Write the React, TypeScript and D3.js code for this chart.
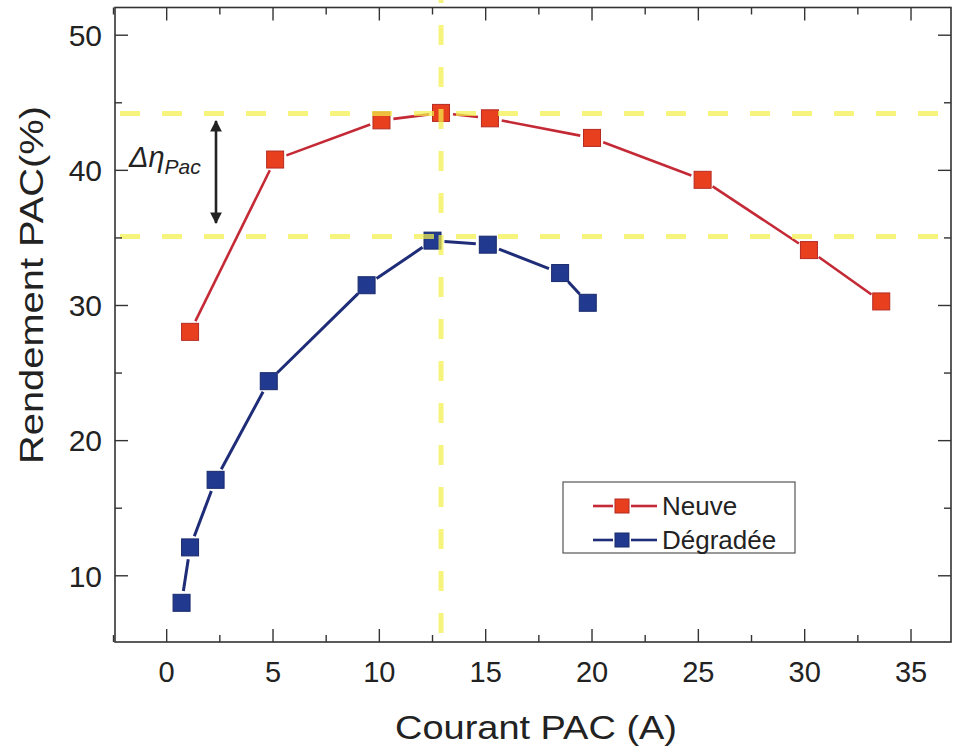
import React from "react";
import * as d3 from "d3";

const neuveX = [1.1, 5.1, 10.1, 12.9, 15.2, 20.0, 25.2, 30.2, 33.6];
const neuveY = [28.05, 40.8, 43.7, 44.25, 43.85, 42.4, 39.3, 34.1, 30.3];
const degX = [0.7, 1.1, 2.3, 4.8, 9.4, 12.5, 15.1, 18.5, 19.8];
const degY = [8.0, 12.1, 17.1, 24.4, 31.5, 34.8, 34.5, 32.4, 30.2];
const hRefLines = [44.2, 35.1];
const vRefLine = 12.9;
const xTicks = [0, 5, 10, 15, 20, 25, 30, 35];
const xMinor = [-2.5, 2.5, 7.5, 12.5, 17.5, 22.5, 27.5, 32.5];
const yTicks = [10, 20, 30, 40, 50];
const yMinor = [15, 25, 35, 45];
const seriesNames = ["Neuve", "Dégradée"];

const W = 954, H = 749;
const L = 115, R = 951, T = 7.5, B = 642;
const FONT = "'Liberation Sans', Arial, Helvetica, sans-serif";

const RED_FILL = "#e8401f", RED_LINE = "#c42a36", RED_STROKE = "#b52a22";
const BLUE_FILL = "#213a8f", BLUE_LINE = "#1f2d78", BLUE_STROKE = "#1a2a6a";
const YELLOW = "#f3f04a";

function Series({ xs, ys, x, y, line, fill, stroke, width }) {
  const pts = xs.map((v, i) => [x(v), y(ys[i])]);
  const gap = 12;
  const segs = [];
  for (let i = 0; i < pts.length - 1; i++) {
    const [x1, y1] = pts[i], [x2, y2] = pts[i + 1];
    const dx = x2 - x1, dy = y2 - y1, len = Math.hypot(dx, dy);
    if (len <= 2 * gap) continue;
    const ux = dx / len, uy = dy / len;
    segs.push(
      <line key={i} x1={x1 + ux * gap} y1={y1 + uy * gap} x2={x2 - ux * gap} y2={y2 - uy * gap}
        stroke={line} strokeWidth={width} />
    );
  }
  const s = 17;
  return (
    <g>
      {segs}
      {pts.map(([px, py], i) => (
        <rect key={i} x={px - s / 2} y={py - s / 2} width={s} height={s} fill={fill} stroke={stroke} strokeWidth={1} />
      ))}
    </g>
  );
}

export default function App() {
  const x = d3.scaleLinear().domain([-2.43, 36.88]).range([L, R]);
  const y = d3.scaleLinear().domain([5.1, 52.05]).range([B, T]);
  const major = 13, minor = 7;
  const axisColor = "#333";

  return (
    <svg width={W} height={H} style={{ position: "absolute", left: 0, top: 0, background: "#fff" }}
      fontFamily={FONT}>
      <rect x={0} y={0} width={W} height={H} fill="#fff" />

      {/* data */}
      <Series xs={neuveX} ys={neuveY} x={x} y={y} line={RED_LINE} fill={RED_FILL} stroke={RED_STROKE} width={2.6} />
      <Series xs={degX} ys={degY} x={x} y={y} line={BLUE_LINE} fill={BLUE_FILL} stroke={BLUE_STROKE} width={3} />

      {/* frame */}
      <rect x={L} y={T} width={R - L} height={B - T} fill="none" stroke={axisColor} strokeWidth={1.6} />

      {/* yellow reference lines */}
      {hRefLines.map((v, i) => (
        <line key={i} x1={L + 2} x2={R} y1={y(v)} y2={y(v)} stroke={YELLOW} strokeOpacity={0.72}
          strokeWidth={5} strokeDasharray="20 22" strokeDashoffset={-3} />
      ))}
      <line x1={x(vRefLine)} x2={x(vRefLine)} y1={633} y2={0} stroke={YELLOW} strokeOpacity={0.72}
        strokeWidth={5} strokeDasharray="20 22" />

      {/* x ticks */}
      {xTicks.map((v) => (
        <g key={"xt" + v}>
          <line x1={x(v)} x2={x(v)} y1={B} y2={B - major} stroke={axisColor} strokeWidth={1.4} />
          <line x1={x(v)} x2={x(v)} y1={T} y2={T + major} stroke={axisColor} strokeWidth={1.4} />
          <text x={x(v)} y={682} textAnchor="middle" fontSize={29} fill="#222">{v}</text>
        </g>
      ))}
      {xMinor.map((v) => (
        <g key={"xm" + v}>
          <line x1={x(v)} x2={x(v)} y1={B} y2={B - minor} stroke={axisColor} strokeWidth={1.4} />
          <line x1={x(v)} x2={x(v)} y1={T} y2={T + minor} stroke={axisColor} strokeWidth={1.4} />
        </g>
      ))}

      {/* y ticks */}
      {yTicks.map((v) => (
        <g key={"yt" + v}>
          <line x1={L} x2={L + major} y1={y(v)} y2={y(v)} stroke={axisColor} strokeWidth={1.4} />
          <line x1={R} x2={R - major} y1={y(v)} y2={y(v)} stroke={axisColor} strokeWidth={1.4} />
          <text x={102} y={y(v)} dy="0.36em" textAnchor="end" fontSize={30} fill="#222">{v}</text>
        </g>
      ))}
      {yMinor.map((v) => (
        <g key={"ym" + v}>
          <line x1={L} x2={L + minor} y1={y(v)} y2={y(v)} stroke={axisColor} strokeWidth={1.4} />
          <line x1={R} x2={R - minor} y1={y(v)} y2={y(v)} stroke={axisColor} strokeWidth={1.4} />
        </g>
      ))}

      {/* axis titles */}
      <text x={536} y={739} textAnchor="middle" fontSize={33} fill="#222"
        textLength={282} lengthAdjust="spacingAndGlyphs">Courant PAC (A)</text>
      <text transform={`translate(43, 285) rotate(-90)`} textAnchor="middle" fontSize={34} fill="#222"
        textLength={358} lengthAdjust="spacingAndGlyphs">
        Rendement PAC(%)
      </text>

      {/* delta eta annotation */}
      <text x={129} y={167} fontSize={29} fontStyle="italic" fill="#222">
        Δη<tspan fontSize={21} dy={7}>Pac</tspan>
      </text>
      <defs>
        <marker id="ah" viewBox="0 0 10 10" refX={9} refY={5} markerWidth={4.5} markerHeight={4.5}
          orient="auto-start-reverse">
          <path d="M0,0 L10,5 L0,10 z" fill="#222" />
        </marker>
      </defs>
      <line x1={216} x2={216} y1={121} y2={223} stroke="#222" strokeWidth={2.6}
        markerStart="url(#ah)" markerEnd="url(#ah)" />

      {/* legend */}
      <rect x={563} y={482} width={232} height={71} fill="#fff" stroke="#555" strokeWidth={1.2} />
      {[0, 1].map((i) => {
        const cy = i === 0 ? 506 : 540;
        const lc = i === 0 ? RED_LINE : BLUE_LINE;
        const fc = i === 0 ? RED_FILL : BLUE_FILL;
        const sc = i === 0 ? RED_STROKE : BLUE_STROKE;
        return (
          <g key={i}>
            <line x1={593} x2={613} y1={cy} y2={cy} stroke={lc} strokeWidth={2.6} />
            <line x1={631} x2={657} y1={cy} y2={cy} stroke={lc} strokeWidth={2.6} />
            <rect x={615} y={cy - 7} width={14} height={14} fill={fc} stroke={sc} strokeWidth={1} />
            <text x={662} y={cy} dy="0.36em" fontSize={26} fill="#222">{seriesNames[i]}</text>
          </g>
        );
      })}
    </svg>
  );
}
